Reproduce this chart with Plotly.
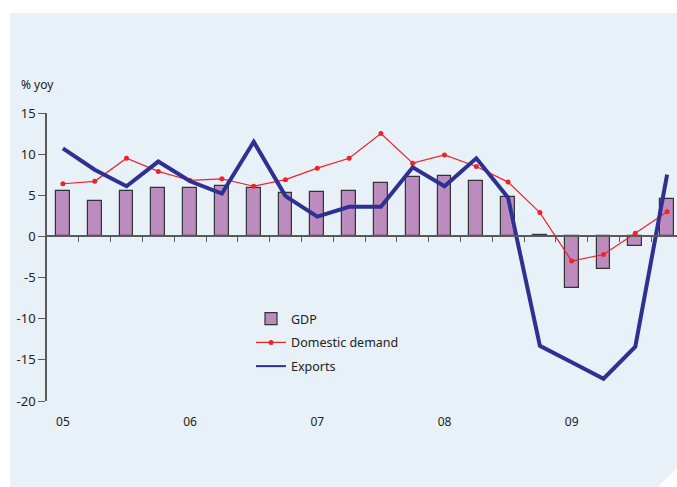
import plotly.graph_objects as go

# Quarterly data, 2005Q1 - 2009Q4, % year on year
quarters = [f"{y}Q{q}" for y in ["05", "06", "07", "08", "09"] for q in range(1, 5)]
gdp = [5.5, 4.3, 5.5, 5.9, 5.9, 6.1, 5.9, 5.3, 5.4, 5.5,
       6.5, 7.2, 7.4, 6.7, 4.8, 0.15, -6.3, -3.9, -1.2, 4.6]
domestic_demand = [6.4, 6.7, 9.5, 7.9, 6.8, 7.0, 6.1, 6.9, 8.3, 9.5,
                   12.5, 8.9, 9.9, 8.5, 6.6, 2.9, -3.0, -2.2, 0.4, 3.0]
exports = [10.7, 8.1, 6.1, 9.1, 6.7, 5.2, 11.5, 4.9, 2.4, 3.6,
           3.6, 8.4, 6.1, 9.5, 4.7, -13.3, -15.3, -17.3, -13.4, 7.5]
year_labels = ["05", "06", "07", "08", "09"]
y_ticks = [15, 10, 5, 0, -5, -10, -15, -20]

idx = list(range(len(quarters)))
year_pos = [i for i, q in enumerate(quarters) if q.endswith("Q1")]
boundaries = [i + 0.5 for i in idx]

W, H = 677, 487
ML, MR, MT, MB = 47, 0, 113, 86
PW, PH = W - ML - MR, H - MT - MB
FONT = "Noto Sans"
PANEL = "#e8f0f8"
AXIS = "#5a5a5a"
TEXT = "#222222"
BAR_FILL, BAR_EDGE = "#bd8cbf", "#333333"
RED, NAVY = "#ee2229", "#2e3192"

def px_x(p):
    return (p - ML) / PW

def px_y(p):
    return (H - MB - p) / PH

fig = go.Figure()

fig.add_trace(go.Bar(
    x=idx, y=gdp, name="GDP", width=0.43,
    marker=dict(color=BAR_FILL, line=dict(color=BAR_EDGE, width=1.2)),
    legendgroup="a",
))
fig.add_trace(go.Scatter(
    x=idx, y=domestic_demand, name="Domestic demand", mode="lines+markers",
    line=dict(color=RED, width=1.2),
    marker=dict(color=RED, size=5, symbol="circle"),
    legendgroup="b",
))
fig.add_trace(go.Scatter(
    x=idx, y=exports, name="Exports", mode="lines",
    line=dict(color=NAVY, width=4),
    legendgroup="c", showlegend=False,
))
# legend entry for exports drawn with a thinner key line
fig.add_trace(go.Scatter(
    x=[None], y=[None], name="Exports", mode="lines",
    line=dict(color=NAVY, width=2), legendgroup="c", hoverinfo="skip",
))

# light panel behind the chart with a clipped lower-right corner
x0, x1 = px_x(10), px_x(W)
yt, yb = px_y(13), px_y(H)
cx, cy = px_x(W - 19), px_y(H - 19)
fig.add_shape(
    type="path", xref="paper", yref="paper", layer="below",
    path=f"M {x0} {yt} L {x1} {yt} L {x1} {cy} L {cx} {yb} L {x0} {yb} Z",
    fillcolor=PANEL, line=dict(width=0),
)

fig.add_annotation(
    text="% yoy", xref="paper", yref="paper", x=px_x(19), y=px_y(85),
    xanchor="left", yanchor="middle", showarrow=False,
    font=dict(family=FONT, size=12, color=TEXT),
)

fig.update_layout(
    width=W, height=H, autosize=False,
    margin=dict(l=ML, r=MR, t=MT, b=MB),
    paper_bgcolor="white", plot_bgcolor="rgba(0,0,0,0)",
    font=dict(family=FONT, size=12, color=TEXT),
    bargap=0,
    showlegend=True,
    legend=dict(
        x=px_x(251), y=px_y(304), xanchor="left", yanchor="top",
        bgcolor="rgba(0,0,0,0)", font=dict(family=FONT, size=12.5, color=TEXT),
        traceorder="grouped", tracegroupgap=4.5, itemwidth=30,
    ),
    xaxis=dict(
        range=[-0.5, -0.5 + PW / 31.8], showgrid=False, zeroline=False,
        showline=False, tickvals=year_pos, ticktext=year_labels,
        ticks="outside", ticklen=10, tickcolor="rgba(0,0,0,0)",
        tickfont=dict(family=FONT, size=12, color=TEXT),
    ),
    xaxis2=dict(
        overlaying="x", matches="x", anchor="free", position=20 / 35,
        showgrid=False, zeroline=False, showline=True, linecolor=AXIS,
        linewidth=1.5, tickvals=boundaries, ticks="outside", ticklen=5,
        tickcolor=AXIS, tickwidth=1.2, showticklabels=False,
    ),
    yaxis=dict(
        range=[-20, 15], tickvals=y_ticks, ticktext=[str(v) for v in y_ticks],
        showgrid=False, zeroline=False,
        showline=True, linecolor=AXIS, linewidth=1.5,
        ticks="outside", ticklen=7, tickcolor=AXIS, tickwidth=1.2,
        tickfont=dict(family=FONT, size=13, color=TEXT),
    ),
)

# invisible trace so the boundary-tick axis is rendered
fig.add_trace(go.Scatter(x=[idx[0]], y=[0], xaxis="x2", mode="markers",
                         marker=dict(opacity=0), showlegend=False, hoverinfo="skip"))

fig.write_html("out.html")
